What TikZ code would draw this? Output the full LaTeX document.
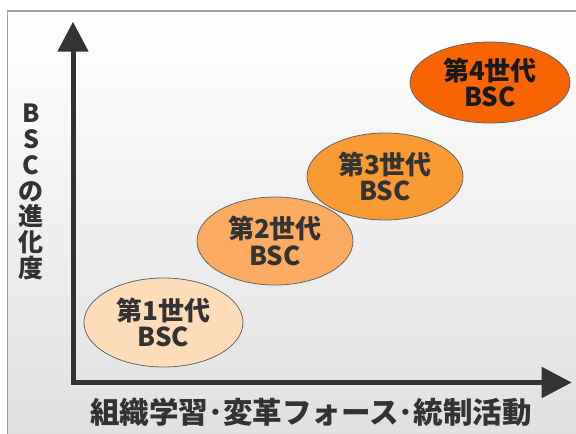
\documentclass[tikz,border=0pt]{standalone}
\usepackage{fontspec}
\newfontfamily\jp{Noto Sans CJK JP}
\usetikzlibrary{arrows.meta,shapes.geometric}
\definecolor{gen1}{HTML}{FDDDB9}
\definecolor{gen2}{HTML}{FCAB62}
\definecolor{gen3}{HTML}{F99A33}
\definecolor{gen4}{HTML}{F86400}
\definecolor{axiscol}{HTML}{333333}
\definecolor{framecol}{HTML}{A0A0A0}
\definecolor{bgbottom}{HTML}{E0E0E0}
\tikzset{
  gen/.style={ellipse, draw=black!60, line width=0.8pt, inner sep=0pt,
    align=center, text=black!80,
    font=\jp\bfseries\fontsize{26}{26.5}\selectfont},
  axis/.style={draw=axiscol, line width=5pt,
    -{Triangle[length=30pt,width=30pt]}},
  lbl/.style={text=black!80, inner sep=0pt}
}
\begin{document}
\begin{tikzpicture}[x=1pt,y=-1pt]
\useasboundingbox (0,0) rectangle (576,434);
\fill[white] (0,0) rectangle (576,434);
\shade[top color=white, bottom color=bgbottom] (7.5,11) rectangle (580,438);
\draw[framecol, line width=1.2pt] (580,11) -- (7.5,11) -- (7.5,438);
\coordinate (origin) at (73,382.5);
\coordinate (ytip) at (73,21.7);
\coordinate (xtip) at (571.7,382.5);
\draw[axis, line cap=butt] ([yshift=-2.5pt]origin) -- (ytip);
\draw[axis] ([xshift=-2.5pt]origin) -- (xtip);
\node[gen, fill=gen1, minimum width=159pt, minimum height=89pt] (g1) at (163.5,322.5) {第1世代\\BSC};
\node[gen, fill=gen2, minimum width=156pt, minimum height=88pt] (g2) at (275,241) {第2世代\\BSC};
\node[gen, fill=gen3, minimum width=156pt, minimum height=87pt] (g3) at (385,176.5) {第3世代\\BSC};
\node[gen, fill=gen4, minimum width=160pt, minimum height=81pt, text=black!90] (g4) at (490,82.5) {第4世代\\BSC};
\node[lbl, align=center, font=\jp\bfseries\fontsize{25}{25.8}\selectfont] (ylab) at (31,192) {B\\S\\C\\の\\進\\化\\度};
\node[lbl, font=\jp\bfseries\fontsize{29.5}{30}\selectfont] (xlab) at (311,412) {組織学習･変革フォース･統制活動};
\end{tikzpicture}
\end{document}
